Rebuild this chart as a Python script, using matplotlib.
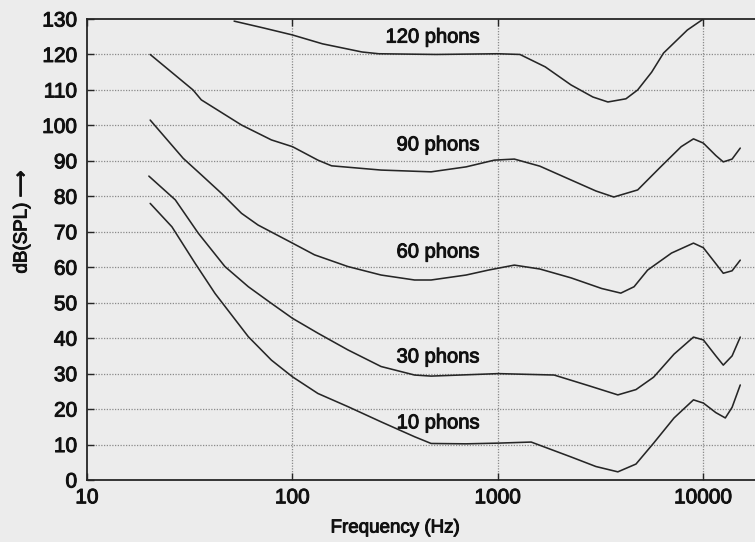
import numpy as np
import matplotlib
matplotlib.use("Agg")
import matplotlib.pyplot as plt
import matplotlib.patheffects as pe

plt.rcParams['font.family'] = ['Liberation Sans', 'DejaVu Sans']

# equal-loudness contours, (frequency Hz, dB SPL)
f120 = [52, 72, 100, 140, 218, 263, 500, 1000, 1280, 1700, 2270, 2900, 3430, 4200, 4790, 5600, 6400, 8360, 10000]
db120 = [129.4, 127.5, 125.5, 123, 120.7, 120.2, 120, 120.2, 120, 116.5, 111.4, 108, 106.6, 107.5, 110, 115, 120.4, 126.9, 130]

f90 = [20.3, 32.8, 36, 56.5, 79, 100, 133, 155, 270, 473, 700, 961, 1202, 1600, 2270, 3000, 3665, 4790, 6195, 7800, 8950, 10000, 11500, 12500, 13800, 15120]
db90 = [120, 110, 107.2, 100.1, 95.9, 94, 90.2, 88.6, 87.4, 86.9, 88.3, 90.2, 90.5, 88.5, 84.6, 81.5, 79.8, 81.8, 88.3, 94, 96.2, 95, 91.5, 89.7, 90.5, 93.6]

f60 = [20.3, 29.4, 36.1, 45.2, 56.5, 68, 100, 128, 186, 270, 393, 473, 700, 900, 1202, 1600, 2270, 3200, 3965, 4600, 5355, 7000, 8950, 10000, 11500, 12500, 13800, 15120]
db60 = [101.5, 90.7, 86, 80.8, 75.2, 71.9, 66.8, 63.5, 60.2, 57.8, 56.4, 56.4, 57.8, 59.2, 60.6, 59.5, 57, 54, 52.7, 54.5, 59.2, 64, 66.8, 65.5, 61, 58.3, 59, 62]

f30 = [20, 26.9, 34.8, 46.9, 61, 79, 100, 133, 186, 270, 393, 473, 1005, 1878, 2800, 3835, 4700, 5727, 7200, 8950, 10000, 11500, 12500, 13800, 15120]
db30 = [85.7, 79, 69.6, 60.2, 54.5, 49.8, 45.6, 41.4, 36.7, 32, 29.6, 29.3, 30, 29.6, 26.5, 24, 25.5, 29, 35.5, 40.3, 39.5, 35, 32.4, 35, 40.3]

f10 = [20.3, 25.9, 33.6, 42, 61, 79, 100, 133, 186, 270, 393, 473, 700, 1005, 1452, 2270, 3000, 3835, 4700, 5727, 7200, 8950, 10000, 11500, 12790, 13800, 15120]
db10 = [78, 71.4, 61.1, 52.6, 40.4, 33.8, 29.1, 24.4, 20.7, 16.4, 12.2, 10.3, 10.2, 10.4, 10.7, 6.5, 3.8, 2.3, 4.5, 10.4, 17.5, 22.6, 21.7, 19, 17.5, 20.5, 26.8]

curves = [(f120, db120), (f90, db90), (f60, db60), (f30, db30), (f10, db10)]

labels = ["120 phons", "90 phons", "60 phons", "30 phons", "10 phons"]
label_y = [124.9, 94.5, 64.3, 34.7, 16.1]

yticks = list(range(0, 131, 10))
xticks = [10, 100, 1000, 10000]

bg = '#ececec'
ink = '#262626'
heavy = [pe.withStroke(linewidth=0.7, foreground='#111111')]

fig = plt.figure(figsize=(7.55, 5.42), dpi=100, facecolor=bg)
ax = fig.add_axes([87 / 755, 62 / 542, (765 - 87) / 755, 461 / 542])
ax.set_facecolor(bg)

for f, db in curves:
    ax.plot(f, db, color=ink, lw=1.15, solid_joinstyle='round', solid_capstyle='round')

for txt, y in zip(labels, label_y):
    ax.text(813, y, txt, ha='right', va='center', fontsize=14.5, color='#111111',
            path_effects=heavy)

ax.set_xscale('log')
ax.set_xlim(10, 10 ** 4.3)
ax.set_ylim(0, 130)
ax.set_xticks(xticks)
ax.set_xticklabels([str(t) for t in xticks])
ax.set_yticks(yticks)
ax.minorticks_off()

for y in yticks[1:-1]:
    ax.axhline(y, color='#8a8a8a', lw=0.9, ls=(0, (1, 1.2)), zorder=0)
for x in xticks[1:]:
    ax.axvline(x, color='#8a8a8a', lw=0.9, ls=(0, (1, 1.2)), zorder=0)

ax.tick_params(axis='both', direction='in', labelsize=15, colors=ink,
               labelcolor='#111111', length=5, width=1.0)
ax.tick_params(axis='x', top=True, pad=6)
ax.tick_params(axis='y', pad=7)
for lbl in ax.get_xticklabels() + ax.get_yticklabels():
    lbl.set_path_effects(heavy)

for side in ['left', 'bottom', 'top']:
    ax.spines[side].set_color(ink)
    ax.spines[side].set_linewidth(1.3)
ax.spines['right'].set_visible(False)

fig.text(395 / 755, 1 - 528 / 542, "Frequency (Hz)", ha='center', va='center',
         fontsize=13.5, color='#111111', path_effects=heavy)
fig.text(22 / 755, 1 - 222 / 542, "dB(SPL) \u27f6", ha='center', va='center',
         rotation=90, fontsize=13.5, color='#111111', path_effects=heavy)

fig.savefig("out.png", dpi=100, facecolor=bg)
